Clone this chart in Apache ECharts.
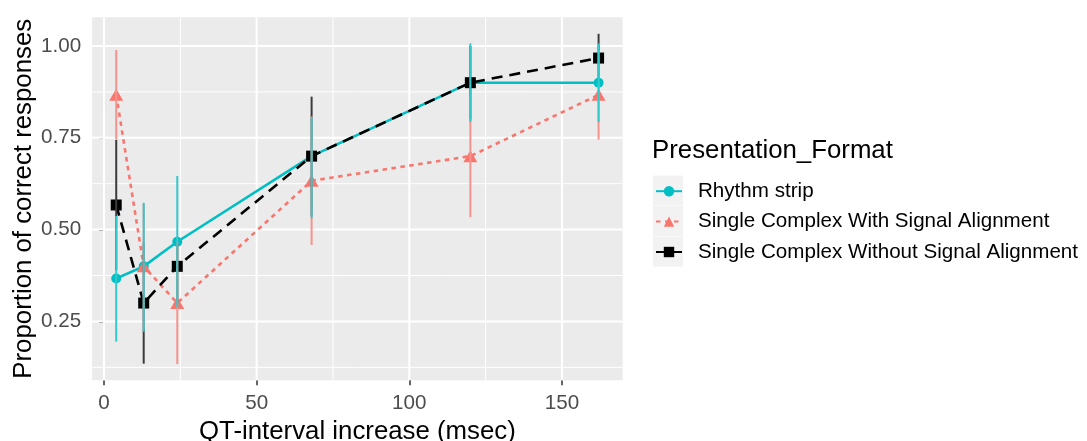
<!DOCTYPE html>
<html><head><meta charset="utf-8">
<script src="https://cdn.jsdelivr.net/npm/echarts@6/dist/echarts.min.js"></script>
<style>html,body{margin:0;padding:0;background:#fff}#c{width:1087px;height:441px}</style>
</head><body><div id="c"></div>
<script>
// ---- data ----
const qtIncrease = [4, 13, 24, 68, 120, 162];
const seriesNames = ['Rhythm strip', 'Single Complex With Signal Alignment', 'Single Complex Without Signal Alignment'];
const rhythmMean = [0.367, 0.40, 0.467, 0.70, 0.90, 0.90];
const rhythmLo   = [0.195, 0.222, 0.288, 0.531, 0.793, 0.793];
const rhythmHi   = [0.537, 0.573, 0.646, 0.805, 1.007, 1.007];
const withMean   = [0.867, 0.40, 0.30, 0.633, 0.70, 0.867];
const withLo     = [0.745, 0.23, 0.134, 0.458, 0.534, 0.745];
const withHi     = [0.989, 0.57, 0.466, 0.808, 0.866, 0.989];
const withoutMean = [0.567, 0.30, 0.40, 0.70, 0.90, 0.967];
const withoutLo   = [0.39, 0.135, 0.30, 0.538, 0.80, 0.90];
const withoutHi   = [0.744, 0.465, 0.46, 0.862, 1.00, 1.033];
const xMajorTicks = [0, 50, 100, 150];
const xMinorTicks = [25, 75, 125];
const yMajorTicks = [0.25, 0.50, 0.75, 1.00];
const yMinorTicks = [0.125, 0.375, 0.625, 0.875];
const xTitle = 'QT-interval increase (msec)';
const yTitle = 'Proportion of correct responses';
const legendTitle = 'Presentation_Format';

// ---- styling ----
const X_MIN = -3.9, X_MAX = 169.9, Y_MIN = 0.09, Y_MAX = 1.078;
const FONT = '"Liberation Sans", Arial, sans-serif';
const colors = ['#00BFC4', '#F8766D', '#000000'];
const barColors = ['#33C8CC', '#F5938C', '#3B3B3B'];

function gridSeries(values, vertical, width) {
  return {
    type: 'custom', silent: true, z: 1, animation: false,
    encode: { x: 0, y: 1 },
    data: values.map(v => vertical ? [v, Y_MIN] : [X_MIN, v]),
    renderItem(params, api) {
      const cs = params.coordSys;
      const p = api.coord([api.value(0), api.value(1)]);
      const shape = vertical
        ? { x1: p[0], y1: cs.y, x2: p[0], y2: cs.y + cs.height }
        : { x1: cs.x, y1: p[1], x2: cs.x + cs.width, y2: p[1] };
      return { type: 'line', shape, style: { stroke: '#ffffff', lineWidth: width } };
    }
  };
}

// error bars: drawn black first, then red, then teal on top
const errorRows = [];
[[2, withoutLo, withoutHi], [1, withLo, withHi], [0, rhythmLo, rhythmHi]].forEach(([g, lo, hi], order) => {
  qtIncrease.forEach((x, i) => errorRows.push([x, lo[i], hi[i], g, order]));
});

const errorSeries = {
  type: 'custom', name: 'errorbars', silent: true, z: 3, animation: false,
  encode: { x: 0, y: [1, 2] },
  data: errorRows,
  renderItem(params, api) {
    const a = api.coord([api.value(0), api.value(1)]);
    const b = api.coord([api.value(0), api.value(2)]);
    const g = api.value(3);
    return { type: 'line', z2: 10 + api.value(4) * 10,
      shape: { x1: a[0], y1: a[1], x2: b[0], y2: b[1] },
      style: { stroke: barColors[g], lineWidth: 2 } };
  }
};

function lineSeries(idx, mean, symbol, size, dash) {
  return {
    type: 'line', name: seriesNames[idx], z: 2, animation: false,
    data: qtIncrease.map((x, i) => [x, mean[i]]),
    symbol, symbolSize: size, showAllSymbol: true,
    lineStyle: { color: colors[idx], width: 2.6, type: dash },
    itemStyle: { color: colors[idx], opacity: 1 }
  };
}

const chart = echarts.init(document.getElementById('c'), null, { renderer: 'canvas' });
chart.setOption({
  animation: false,
  backgroundColor: '#ffffff',
  grid: { left: 92.1, right: 464.3, top: 17.3, bottom: 60.8, show: true, backgroundColor: '#EBEBEB', borderWidth: 0,
          containLabel: false, outerBoundsMode: 'none' },
  xAxis: {
    type: 'value', min: X_MIN, max: X_MAX,
    splitLine: { show: false }, axisLine: { show: false },
    axisTick: { show: true, customValues: xMajorTicks, length: 5, lineStyle: { color: '#333333', width: 1.5 } },
    axisLabel: { customValues: xMajorTicks, color: '#4D4D4D', fontSize: 20.6, fontFamily: FONT, margin: 13 },
    name: xTitle, nameLocation: 'middle', nameGap: 33,
    nameTextStyle: { fontSize: 25.8, color: '#000000', fontFamily: FONT }
  },
  yAxis: {
    type: 'value', min: Y_MIN, max: Y_MAX,
    splitLine: { show: false }, axisLine: { show: false },
    axisTick: { show: true, customValues: yMajorTicks, length: 5, lineStyle: { color: '#333333', width: 1.5 } },
    axisLabel: { customValues: yMajorTicks, formatter: v => v.toFixed(2), color: '#4D4D4D', fontSize: 20.6, fontFamily: FONT, margin: 11 },
    name: yTitle, nameLocation: 'middle', nameGap: 52, nameRotate: 90,
    nameTextStyle: { fontSize: 25.8, color: '#000000', fontFamily: FONT }
  },
  legend: {
    data: seriesNames, orient: 'vertical', left: 655, top: 180.7,
    itemWidth: 26, itemHeight: 13, itemGap: 9.4, padding: 0, selectedMode: false,
    textStyle: { fontFamily: FONT, fontSize: 20.6, color: '#000000', padding: [0, 0, 0, 11] }
  },
  graphic: [
    { type: 'rect', left: 653, top: 175.5, shape: { width: 30, height: 30 }, style: { fill: '#F2F2F2' } },
    { type: 'rect', left: 653, top: 206, shape: { width: 30, height: 30 }, style: { fill: '#F2F2F2' } },
    { type: 'rect', left: 653, top: 236.5, shape: { width: 30, height: 30 }, style: { fill: '#F2F2F2' } },
    { type: 'text', left: 652, top: 138, style: { text: legendTitle, font: '25.8px ' + FONT, fill: '#000000' } }
  ],
  series: [
    gridSeries(xMinorTicks, true, 1),
    gridSeries(yMinorTicks, false, 1),
    gridSeries(xMajorTicks, true, 2),
    gridSeries(yMajorTicks, false, 2),
    lineSeries(0, rhythmMean, 'circle', 10, 'solid'),
    lineSeries(1, withMean, 'triangle', [14, 12], [4.5, 4.5]),
    lineSeries(2, withoutMean, 'rect', 11, [11, 7]),
    errorSeries
  ]
});
</script></body></html>
